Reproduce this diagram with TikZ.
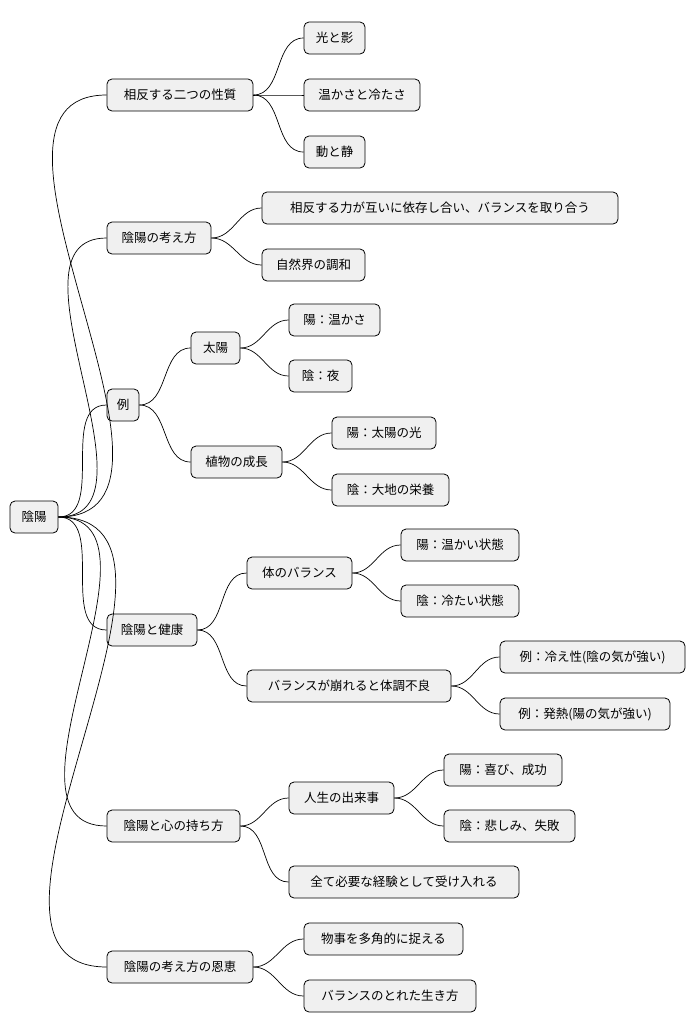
\documentclass[tikz,border=0pt]{standalone}
\usepackage{fontspec}
\setmainfont{Noto Sans CJK JP}
\begin{document}
\begin{tikzpicture}[x=1pt,y=-1pt,
  mm/.style={draw=black,fill=black!6,rounded corners=5pt,line width=0.8pt,minimum height=32pt,inner sep=0pt,font=\fontsize{12.5}{14}\selectfont},
  ln/.style={line width=0.7pt}]
\useasboundingbox (0,0) rectangle (695,1034);
\newcommand{\nd}[5]{\node[mm,minimum width=#3-#2] (#1) at ({(#2+#3)/2},#4) {#5};}
\nd{r}{10}{58}{517}{陰陽}
\nd{a}{107}{253}{95}{相反する二つの性質}
\nd{a1}{304}{365}{38}{光と影}
\nd{a2}{304}{420}{95}{温かさと冷たさ}
\nd{a3}{304}{365}{152}{動と静}
\nd{b}{107}{211}{238}{陰陽の考え方}
\nd{b1}{262}{618}{208}{相反する力が互いに依存し合い、バランスを取り合う}
\nd{b2}{262}{365}{265}{自然界の調和}
\nd{c}{107}{139}{405}{例}
\nd{c1}{191}{240}{348}{太陽}
\nd{c11}{289}{380}{320}{陽：温かさ}
\nd{c12}{289}{352}{376}{陰：夜}
\nd{c2}{191}{282}{462}{植物の成長}
\nd{c21}{332}{436}{433}{陽：太陽の光}
\nd{c22}{332}{449}{490}{陰：大地の栄養}
\nd{d}{107}{197}{630}{陰陽と健康}
\nd{d1}{247}{352}{573}{体のバランス}
\nd{d11}{401}{519}{545}{陽：温かい状態}
\nd{d12}{401}{519}{601}{陰：冷たい状態}
\nd{d2}{247}{451}{686}{バランスが崩れると体調不良}
\nd{d21}{500}{685}{657}{例：冷え性(陰の気が強い)}
\nd{d22}{500}{670}{714}{例：発熱(陽の気が強い)}
\nd{e}{107}{240}{826}{陰陽と心の持ち方}
\nd{e1}{289}{394}{798}{人生の出来事}
\nd{e11}{444}{562}{770}{陽：喜び、成功}
\nd{e12}{444}{575}{826}{陰：悲しみ、失敗}
\nd{e2}{289}{519}{882}{全て必要な経験として受け入れる}
\nd{f}{107}{253}{967}{陰陽の考え方の恩恵}
\nd{f1}{304}{463}{939}{物事を多角的に捉える}
\nd{f2}{304}{476}{996}{バランスのとれた生き方}
\foreach \p/\c in {r/a,r/b,r/c,r/d,r/e,r/f,a/a1,a/a2,a/a3,b/b1,b/b2,c/c1,c/c2,c1/c11,c1/c12,c2/c21,c2/c22,d/d1,d/d2,d1/d11,d1/d12,d2/d21,d2/d22,e/e1,e/e2,e1/e11,e1/e12,f/f1,f/f2}
  \draw[ln] (\p.east) to[out=0,in=180] (\c.west);
\end{tikzpicture}
\end{document}
